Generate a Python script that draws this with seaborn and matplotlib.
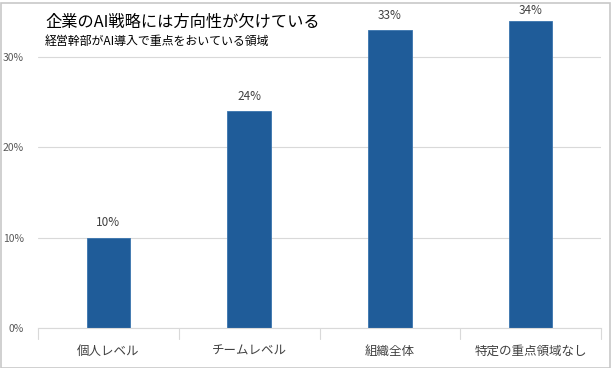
import matplotlib
matplotlib.use("Agg")
import matplotlib.pyplot as plt
import seaborn as sns
import pandas as pd
from matplotlib.patches import Rectangle

categories = ["個人レベル", "チームレベル", "組織全体", "特定の重点領域なし"]
values = [0.10, 0.24, 0.33, 0.34]
yticks = [0.0, 0.1, 0.2, 0.3]
ytick_labels = ["0%", "10%", "20%", "30%"]
title = "企業のAI戦略には方向性が欠けている"
subtitle = "経営幹部がAI導入で重点をおいている領域"

sns.set_theme(style="white")
plt.rcParams["font.family"] = ["Noto Sans CJK JP", "DejaVu Sans"]

df = pd.DataFrame({"cat": categories, "val": values})

fig = plt.figure(figsize=(6.12, 3.68), dpi=100)
ax = fig.add_axes([38/612, 1 - 328/368, (601-38)/612, (328-12)/368])

sns.barplot(data=df, x="cat", y="val", ax=ax, color="#1F5C99", width=0.31,
            edgecolor="#3A74AE", linewidth=0.6, saturation=1)

ax.set_ylim(0, 0.35)
ax.set_xlim(-0.5, len(categories) - 0.5)
ax.set_yticks(yticks)
ax.set_yticklabels(ytick_labels, fontsize=7.5, color="#595959")
ax.yaxis.grid(True, color="#D9D9D9", linewidth=0.8)
ax.set_axisbelow(True)
ax.tick_params(axis="y", length=0, pad=10)
ax.set_xlabel("")
ax.set_ylabel("")

# category labels
ax.set_xticks(range(len(categories)))
ax.set_xticklabels(categories, fontsize=9, color="#404040")
ax.tick_params(axis="x", length=0, pad=12)
# boundary ticks
for b in [i - 0.5 for i in range(len(categories) + 1)]:
    ax.plot([b, b], [0, -0.012], color="#D9D9D9", linewidth=0.8, clip_on=False)

for s in ["top", "right", "left"]:
    ax.spines[s].set_visible(False)
ax.spines["bottom"].set_color("#D9D9D9")
ax.spines["bottom"].set_linewidth(0.8)

for i, v in enumerate(values):
    ax.text(i, min(v + 0.0165, 0.3515), f"{round(v*100)}%", ha="center", va="center",
            fontsize=8.5, color="#404040", clip_on=False)

fig.text(45/612, 1 - 22/368, title, fontsize=11.7, color="#000000", va="center", ha="left")
fig.text(45/612, 1 - 41/368, subtitle, fontsize=8.6, color="#000000", va="center", ha="left")

fig.patches.append(Rectangle((0.5/612, 0.5/368), 1 - 3/612, 1 - 3/368,
                             transform=fig.transFigure, fill=False,
                             edgecolor="#C8C8C8", linewidth=1.2))

fig.savefig("out.png", dpi=100)
